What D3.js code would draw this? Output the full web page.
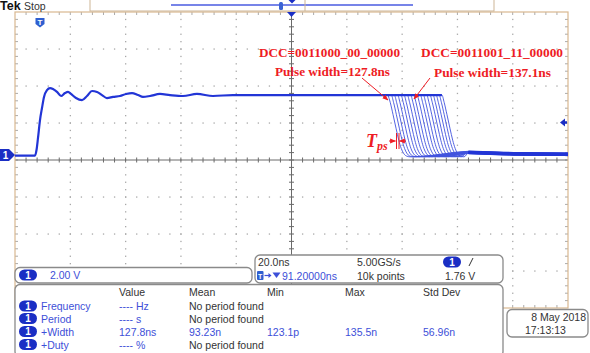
<!DOCTYPE html>
<html><head><meta charset="utf-8">
<script src="https://cdn.jsdelivr.net/npm/d3@7/dist/d3.min.js"></script>
<style>html,body{margin:0;padding:0;background:#fff;overflow:hidden}</style>
</head><body><svg id="c" width="590" height="353"></svg>
<script>
// ---------------- data ----------------
const mainTime = [-100, -92.77, -92.22, -91.68, -90.96, -90.24, -89.51, -88.43, -87.34, -86.26, -84.81, -83.36, -81.92, -80.83, -79.75, -77.94, -75.77, -73.96, -72.15, -70.34, -68.53, -66.73, -64.56, -62.03, -59.85, -57.68, -55.51, -53.71, -51.18, -47.56, -43.94, -39.24, -34.18, -28.39, -21.16, -11.39, 3.07, 17.54, 34.9];
const mainVolt = [-0.03, -0.03, 0.27, 0.92, 1.89, 2.54, 3.14, 3.51, 3.62, 3.57, 3.41, 3.19, 3.35, 3.41, 3.30, 3.08, 2.97, 3.19, 3.46, 3.41, 3.24, 3.08, 3.14, 3.19, 3.30, 3.35, 3.24, 3.14, 3.19, 3.30, 3.24, 3.19, 3.30, 3.19, 3.24, 3.24, 3.24, 3.24, 3.24];
const highLevel = 3.24;
const fallTimes = [34.9, 36.1, 37.2, 38.4, 39.6, 40.7, 41.9, 43.1, 44.2, 45.4, 46.6, 47.7, 48.9, 50.1, 51.2, 52.3, 53.4, 54.4];
const fallDt = [0, 0.8, 1.8, 2.9, 3.9, 4.8, 5.6, 6.6, 8.0];
const fallVolt = [3.24, 2.85, 2.2, 1.45, 0.8, 0.35, 0.1, -0.05, -0.1];
const lowTime = [64, 72, 82, 100];
const lowVolt = [0.14, 0.1, 0.06, 0.04];
const traceOffset = [0.02, -0.05, 0.06, -0.02, 0.04, -0.06, 0.01, 0.05, -0.03, 0.03, -0.04, 0.0, 0.05, -0.05, 0.02, -0.01, 0.04, -0.03];
const trigLevel = 1.76;

const measHeaders = ["Value", "Mean", "Min", "Max", "Std Dev"];
const measNames = ["Frequency", "Period", "+Width", "+Duty"];
const measValue = ["---- Hz", "---- s", "127.8ns", "---- %"];
const measMean = ["No period found", "No period found", "93.23n", "No period found"];
const measMin = ["", "", "123.1p", ""];
const measMax = ["", "", "135.5n", ""];
const measStd = ["", "", "56.96n", ""];

const annoLeft = ["DCC=0011000_00_00000", "Pulse width=127.8ns"];
const annoRight = ["DCC=0011001_11_00000", "Pulse width=137.1ns"];

// ---------------- drawing ----------------
const svg = d3.select('#c');
const UI = "'Liberation Sans', Arial, sans-serif";
const SERIF = "'Liberation Serif', 'Times New Roman', serif";
const BLUE = "#2235d6", TXTBLUE = "#3d4fd8", DARK = "#333", PILL = "#1a2ec4", RED = "#ee1c24";

const x = d3.scaleLinear().domain([-100, 100]).range([15, 568]);
const y = d3.scaleLinear().domain([-8.27, 7.73]).range([308, 12]);
const gx = d3.scaleLinear().domain([0, 10]).range([15, 568]);
const gy = d3.scaleLinear().domain([0, 8]).range([12, 308]);

const defs = svg.append('defs');
defs.append('marker').attr('id', 'ah').attr('viewBox', '0 0 10 10').attr('refX', 9).attr('refY', 5)
  .attr('markerWidth', 6).attr('markerHeight', 6).attr('orient', 'auto-start-reverse')
  .append('path').attr('d', 'M0,1 L10,5 L0,9 z').attr('fill', RED);

// grid
const grid = svg.append('g');
const minorX = d3.range(1, 50).map(j => j / 5);
const minorY = d3.range(1, 40).map(j => j / 5);
[1, 2, 3, 5, 6, 7].forEach(i => {
  grid.selectAll(null).data(minorX).enter()
    .append('rect').attr('x', d => gx(d) - 0.6).attr('y', gy(i) - 0.6).attr('width', 1.3).attr('height', 1.3).attr('fill', '#a8a8a8');
});
[1, 2, 3, 4, 6, 7, 8, 9].forEach(i => {
  grid.selectAll(null).data(minorY).enter()
    .append('rect').attr('x', gx(i) - 0.6).attr('y', d => gy(d) - 0.6).attr('width', 1.3).attr('height', 1.3).attr('fill', '#a8a8a8');
});
// border ticks
grid.selectAll(null).data(minorY).enter().append('line')
  .attr('x1', gx(0)).attr('x2', gx(0) + 3).attr('y1', d => gy(d)).attr('y2', d => gy(d)).attr('stroke', '#aaa');
grid.selectAll(null).data(minorY).enter().append('line')
  .attr('x1', gx(10) - 3).attr('x2', gx(10)).attr('y1', d => gy(d)).attr('y2', d => gy(d)).attr('stroke', '#aaa');
grid.selectAll(null).data(minorX).enter().append('line')
  .attr('x1', d => gx(d)).attr('x2', d => gx(d)).attr('y1', gy(0)).attr('y2', gy(0) + 3).attr('stroke', '#aaa');
grid.selectAll(null).data(minorX).enter().append('line')
  .attr('x1', d => gx(d)).attr('x2', d => gx(d)).attr('y1', gy(8) - 3).attr('y2', gy(8)).attr('stroke', '#aaa');
// center axes
grid.append('line').attr('x1', gx(0)).attr('x2', gx(10)).attr('y1', gy(4)).attr('y2', gy(4)).attr('stroke', '#6a6a6a');
grid.append('line').attr('x1', gx(5)).attr('x2', gx(5)).attr('y1', gy(0)).attr('y2', gy(8)).attr('stroke', '#6a6a6a');
grid.selectAll(null).data(minorX).enter().append('line')
  .attr('x1', d => gx(d)).attr('x2', d => gx(d)).attr('y1', gy(4) - 2.5).attr('y2', gy(4) + 2.5).attr('stroke', '#6a6a6a');
grid.selectAll(null).data(minorY).enter().append('line')
  .attr('x1', gx(5) - 2.5).attr('x2', gx(5) + 2.5).attr('y1', d => gy(d)).attr('y2', d => gy(d)).attr('stroke', '#6a6a6a');
// border
svg.append('rect').attr('x', gx(0)).attr('y', gy(0)).attr('width', gx(10) - gx(0)).attr('height', gy(8) - gy(0))
  .attr('fill', 'none').attr('stroke', '#d9b890').attr('stroke-width', 1.2);

// waveforms
const line = d3.line().x(d => x(d[0])).y(d => y(d[1])).curve(d3.curveMonotoneX);
const traces = svg.append('g');
fallTimes.forEach((f, i) => {
  const pts = [[fallTimes[0], highLevel]];
  if (f > fallTimes[0]) pts.push([f, highLevel]);
  fallDt.forEach((dt, k) => pts.push([f + dt, fallVolt[k]]));
  lowTime.forEach((t, k) => { if (t > f + fallDt[fallDt.length - 1] + 1) pts.push([t, lowVolt[k] + traceOffset[i]]); });
  traces.append('path').attr('d', line(pts)).attr('fill', 'none').attr('stroke', '#4153de').attr('stroke-width', 1).attr('opacity', 0.9);
});
// low band emphasis
traces.selectAll(null).data(traceOffset.slice(0, 6)).enter().append('path')
  .attr('d', d => line(lowTime.map((t, k) => [t, lowVolt[k] + d])))
  .attr('fill', 'none').attr('stroke', BLUE).attr('stroke-width', 1.5);
svg.append('path').attr('d', line(mainTime.map((t, i) => [t, mainVolt[i]])))
  .attr('fill', 'none').attr('stroke', BLUE).attr('stroke-width', 2.2);
svg.append('path').attr('d', line([[fallTimes[0], highLevel], [fallTimes[fallTimes.length - 1], highLevel]]))
  .attr('fill', 'none').attr('stroke', BLUE).attr('stroke-width', 2.2);

// markers
const gnd = y(0);
svg.append('path').attr('d', `M0,${gnd - 6} L9,${gnd - 6} L15,${gnd} L9,${gnd + 6} L0,${gnd + 6} Z`).attr('fill', PILL);
svg.append('text').attr('x', 5.5).attr('y', gnd + 4).attr('text-anchor', 'middle').attr('font-family', UI).attr('font-weight', 'bold')
  .attr('font-size', 10).attr('fill', '#fff').text('1');
const ty = y(trigLevel);
svg.append('path').attr('d', `M560,${ty} L565,${ty - 4} L565,${ty - 1.2} L567,${ty - 1.2} L567,${ty + 1.2} L565,${ty + 1.2} L565,${ty + 4} Z`).attr('fill', PILL);
svg.append('path').attr('d', `M${gx(5) - 4.5},${gy(0)} L${gx(5) + 4.5},${gy(0)} L${gx(5)},${gy(0) + 5} Z`).attr('fill', PILL);
// trigger badge
svg.append('path').attr('d', 'M35.5,18 h9 v6 l-4.5,3.5 l-4.5,-3.5 z').attr('fill', '#2f5fd0');
svg.append('text').attr('x', 40).attr('y', 25).attr('text-anchor', 'middle').attr('font-family', UI).attr('font-weight', 'bold')
  .attr('font-size', 8).attr('fill', '#fff').text('T');

// top bar
svg.append('text').attr('x', 0).attr('y', 10).attr('font-family', UI).attr('font-weight', 'bold').attr('font-size', 12.5).attr('fill', '#111').text('Tek');
svg.append('text').attr('x', 24).attr('y', 10).attr('font-family', UI).attr('font-size', 10.5).attr('fill', DARK).text('Stop');
svg.append('rect').attr('x', 90).attr('y', -1).attr('width', 404).attr('height', 12).attr('fill', '#fff').attr('stroke', '#cdb596');
svg.append('line').attr('x1', 171).attr('x2', 413).attr('y1', 5).attr('y2', 5).attr('stroke', '#4a5be0').attr('stroke-width', 1.5);
svg.append('line').attr('x1', 305).attr('x2', 305).attr('y1', 0).attr('y2', 11).attr('stroke', '#cdb596');
svg.append('rect').attr('x', 279).attr('y', 2).attr('width', 4).attr('height', 8).attr('rx', 1.5).attr('fill', '#3b63d4');
svg.append('path').attr('d', 'M288.5,0 L295.5,0 L292,3.5 Z').attr('fill', PILL);

// annotations
const anno = svg.append('g').attr('font-family', SERIF).attr('font-weight', 'bold').attr('fill', RED).attr('font-size', 13);
anno.append('text').attr('x', 259).attr('y', 57).attr('textLength', 141).attr('lengthAdjust', 'spacingAndGlyphs').text(annoLeft[0]);
anno.append('text').attr('x', 275).attr('y', 76).attr('textLength', 115).attr('lengthAdjust', 'spacingAndGlyphs').text(annoLeft[1]);
anno.append('text').attr('x', 421).attr('y', 57).attr('textLength', 142).attr('lengthAdjust', 'spacingAndGlyphs').text(annoRight[0]);
anno.append('text').attr('x', 434).attr('y', 77).attr('textLength', 117).attr('lengthAdjust', 'spacingAndGlyphs').text(annoRight[1]);
const ar = svg.append('g').attr('stroke', RED).attr('stroke-width', 1).attr('fill', 'none');
ar.append('line').attr('x1', 362).attr('y1', 78).attr('x2', 388).attr('y2', 100).attr('marker-end', 'url(#ah)');
ar.append('line').attr('x1', 430).attr('y1', 78).attr('x2', 414).attr('y2', 99).attr('marker-end', 'url(#ah)');
ar.append('line').attr('x1', 389).attr('y1', 141).attr('x2', 395.5).attr('y2', 141).attr('marker-end', 'url(#ah)');
ar.append('line').attr('x1', 406).attr('y1', 141).attr('x2', 399.5).attr('y2', 141).attr('marker-end', 'url(#ah)');
ar.append('line').attr('x1', 396.5).attr('y1', 133).attr('x2', 396.5).attr('y2', 149);
ar.append('line').attr('x1', 399).attr('y1', 133).attr('x2', 399).attr('y2', 149);
const tps = svg.append('text').attr('x', 366).attr('y', 147).attr('font-family', SERIF).attr('font-weight', 'bold')
  .attr('font-style', 'italic').attr('fill', RED).attr('font-size', 18);
tps.append('tspan').text('T');
tps.append('tspan').attr('font-size', 12).attr('dy', 3).text('ps');

// panels
function panel(x0, y0, w, h) {
  svg.append('rect').attr('x', x0).attr('y', y0).attr('width', w).attr('height', h).attr('rx', 5)
    .attr('fill', '#fff').attr('stroke', '#8a8a8a').attr('stroke-width', 1.3);
}
function t(s, x0, y0, col, anchor) {
  return svg.append('text').attr('x', x0).attr('y', y0).attr('font-family', UI).attr('font-size', 10.5)
    .attr('fill', col || DARK).attr('text-anchor', anchor || 'start').text(s);
}
function pill(cx, cy) {
  svg.append('rect').attr('x', cx - 9).attr('y', cy - 5.5).attr('width', 18).attr('height', 11).attr('rx', 5.5).attr('fill', PILL);
  svg.append('text').attr('x', cx).attr('y', cy + 3.8).attr('text-anchor', 'middle').attr('font-family', UI)
    .attr('font-weight', 'bold').attr('font-size', 10).attr('fill', '#fff').text('1');
}
panel(15, 267.5, 237, 15.5);
pill(28, 275);
t('2.00 V', 50, 279, TXTBLUE);

panel(255, 255, 248, 28);
t('20.0ns', 258, 266);
svg.append('rect').attr('x', 257).attr('y', 271).attr('width', 6.5).attr('height', 9).attr('rx', 1).attr('fill', '#2f5fd0');
svg.append('text').attr('x', 260.2).attr('y', 278.5).attr('text-anchor', 'middle').attr('font-family', UI).attr('font-weight', 'bold')
  .attr('font-size', 7).attr('fill', '#fff').text('T');
svg.append('line').attr('x1', 264.5).attr('y1', 275.5).attr('x2', 270).attr('y2', 275.5).attr('stroke', TXTBLUE).attr('stroke-width', 1.2);
svg.append('path').attr('d', 'M268.5,273 L271.5,275.5 L268.5,278 Z').attr('fill', TXTBLUE);
svg.append('path').attr('d', 'M272.5,272.5 L280.5,272.5 L276.5,278 Z').attr('fill', TXTBLUE);
t('91.20000ns', 282, 280, TXTBLUE);
t('5.00GS/s', 357, 266);
t('10k points', 357, 280);
pill(452, 262);
svg.append('line').attr('x1', 469).attr('y1', 266).attr('x2', 473).attr('y2', 258).attr('stroke', DARK);
t('1.76 V', 445, 280);

panel(15, 284.5, 488, 72);
const colX = [119, 189, 267, 345, 423];
measHeaders.forEach((h, i) => t(h, colX[i], 296));
const rowY = [306, 318.5, 331.5, 344.5];
measNames.forEach((n, i) => {
  pill(28, rowY[i]);
  t(n, 41, rowY[i] + 4, TXTBLUE);
  t(measValue[i], colX[0], rowY[i] + 4, TXTBLUE);
  t(measMean[i], colX[1], rowY[i] + 4, measMean[i].startsWith('No') ? DARK : TXTBLUE);
  if (measMin[i]) t(measMin[i], colX[2], rowY[i] + 4, TXTBLUE);
  if (measMax[i]) t(measMax[i], colX[3], rowY[i] + 4, TXTBLUE);
  if (measStd[i]) t(measStd[i], colX[4], rowY[i] + 4, TXTBLUE);
});

panel(507, 309.5, 81, 27.5);
t('8 May 2018', 586, 321, DARK, 'end');
t('17:13:13', 525, 334);
</script></body></html>
